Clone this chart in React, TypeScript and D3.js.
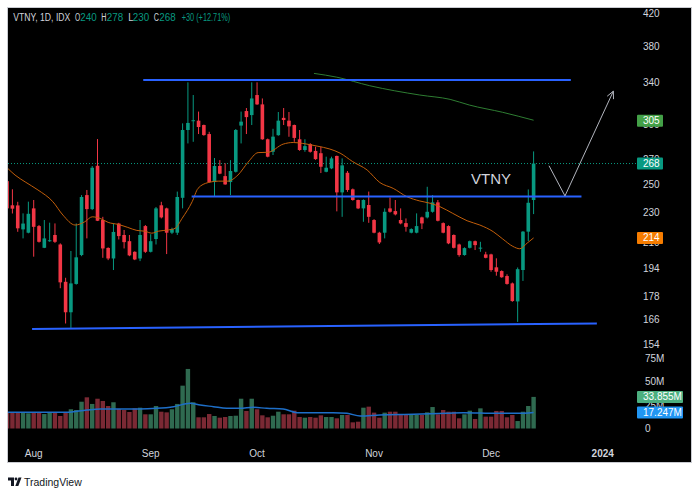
import React from 'react';
import * as d3 from 'd3';

// daily OHLC, one entry per trading day starting 2023-07-25
const opens = [254.1, 236.2, 236.1, 219.6, 217.4, 234.0, 221.8, 207.7, 212.0, 215.9,
  209.8, 187.4, 170.9, 186.2, 203.2, 243.6, 233.5, 266.2, 225.9, 207.6,
  201.1, 223.5, 215.9, 211.9, 205.2, 201.1, 221.8, 205.2, 213.3, 236.2,
  234.0, 217.4, 217.4, 241.6, 296.6, 305.1, 305.1, 301.1, 293.0, 253.4,
  266.0, 258.0, 253.4, 261.4, 300.6, 314.1, 310.3, 329.7, 320.5, 288.4,
  277.7, 292.0, 307.7, 305.1, 301.1, 288.4, 279.2, 284.2, 278.4, 276.5,
  261.4, 264.1, 274.2, 245.6, 260.6, 247.9, 240.0, 234.0, 236.4, 225.9,
  217.4, 217.4, 234.0, 232.1, 225.9, 223.8, 217.4, 217.4, 227.7, 227.7,
  231.6, 238.3, 223.8, 221.8, 215.9, 209.8, 203.2, 207.7, 211.9, 207.5,
  203.6, 203.6, 195.8, 193.6, 190.7, 186.5, 176.6, 194.2, 218.1, 240];
const highs = [256.4, 247.9, 238.7, 230.5, 238.8, 240.0, 222.5, 225.9, 224.1, 223.6,
  210.5, 189.7, 205.7, 223.6, 243.6, 247.4, 266.0, 288.6, 228.1, 208.0,
  223.6, 224.0, 219.2, 215.9, 205.5, 225.9, 222.5, 216.4, 235.0, 238.7,
  234.5, 220.7, 246.2, 302.6, 342.6, 329.7, 313.6, 301.5, 295.0, 272.5,
  270.8, 268.2, 270.8, 297.5, 313.6, 317.0, 342.6, 342.6, 326.3, 289.0,
  297.7, 313.2, 317.0, 313.2, 301.5, 296.6, 288.4, 285.0, 282.0, 282.0,
  273.6, 273.6, 274.5, 272.2, 262.0, 248.5, 240.3, 240.5, 246.2, 226.5,
  218.0, 234.0, 241.8, 240.0, 234.0, 227.0, 220.3, 230.5, 228.2, 249.8,
  243.6, 240.0, 224.3, 222.3, 216.3, 210.3, 208.0, 212.3, 212.3, 211.5,
  205.2, 204.0, 201.2, 194.0, 191.7, 187.0, 195.7, 218.5, 247.8, 278];
const lows = [232.1, 230.4, 218.0, 213.7, 217.0, 202.2, 211.0, 207.5, 211.5, 210.8,
  183.8, 165.2, 163.0, 185.8, 202.5, 213.7, 232.8, 225.2, 201.5, 200.1,
  194.2, 213.0, 207.3, 202.5, 200.1, 199.5, 204.5, 204.8, 209.8, 227.0,
  203.8, 216.5, 215.9, 234.0, 284.8, 286.2, 293.0, 291.5, 253.0, 242.9,
  259.5, 251.3, 243.6, 260.8, 284.8, 293.0, 301.1, 320.0, 288.0, 273.1,
  275.0, 291.5, 301.1, 290.6, 286.2, 278.5, 277.7, 277.0, 271.0, 260.4,
  261.0, 263.5, 231.9, 228.1, 246.0, 239.5, 233.5, 224.7, 224.0, 217.0,
  210.1, 213.7, 231.0, 229.1, 223.0, 218.1, 217.0, 217.0, 219.8, 227.0,
  231.0, 225.0, 217.0, 210.0, 207.3, 202.2, 202.8, 207.3, 206.3, 205.2,
  201.2, 193.2, 190.9, 189.7, 185.8, 176.4, 166.0, 187.9, 212.0, 230];
const closes = [234.0, 233.8, 220.3, 223.5, 230.2, 221.3, 211.5, 213.7, 212.5, 211.5,
  187.1, 170.9, 186.5, 201.8, 242.2, 233.5, 264.6, 225.4, 207.3, 201.1,
  217.9, 215.2, 211.3, 203.0, 200.5, 215.9, 205.2, 211.9, 234.0, 227.7,
  217.4, 219.8, 242.2, 296.6, 303.0, 305.5, 299.3, 292.1, 253.4, 266.0,
  259.9, 251.6, 262.0, 296.6, 304.2, 308.4, 326.3, 320.5, 288.4, 273.6,
  290.7, 305.1, 305.7, 299.9, 289.6, 279.2, 282.5, 277.7, 271.6, 265.4,
  264.6, 272.2, 245.6, 266.5, 247.4, 240.0, 234.0, 240.0, 228.1, 217.4,
  211.1, 231.6, 231.6, 229.8, 223.6, 221.3, 219.8, 221.8, 223.6, 231.6,
  238.3, 225.4, 217.4, 210.5, 207.7, 203.2, 207.5, 211.9, 209.4, 207.8,
  201.5, 194.2, 193.2, 190.0, 186.2, 176.8, 194.7, 218.1, 238.0, 268];
// volume, millions of shares
const volumes = [17.0, 16.9, 16.9, 16.9, 16.3, 16.9, 16.9, 15.5, 16.9, 16.9,
  13.4, 16.9, 20.6, 19.8, 28.7, 33.4, 26.3, 31.9, 29.5, 24.1,
  28.1, 20.9, 19.8, 17.7, 21.6, 22.3, 15.2, 15.2, 24.1, 18.0,
  17.3, 20.6, 26.3, 45.9, 63.8, 28.1, 12.0, 12.0, 15.5, 13.4,
  11.6, 12.3, 13.4, 13.7, 31.9, 18.8, 31.9, 20.6, 14.1, 12.0,
  13.7, 18.0, 15.2, 15.2, 19.1, 12.3, 11.6, 12.3, 11.6, 14.1,
  12.3, 12.3, 10.9, 14.5, 14.5, 6.6, 7.3, 22.3, 23.4, 17.0,
  11.6, 17.0, 18.0, 18.0, 14.5, 14.5, 14.5, 14.5, 14.5, 17.3,
  23.0, 15.2, 19.8, 18.0, 18.0, 10.9, 15.2, 19.1, 10.2, 21.6,
  12.7, 12.7, 18.8, 18.8, 12.0, 14.5, 8.0, 18.0, 24.1, 33.855];

const firstDay = '2023-07-25';
const holidays = ['2023-08-17', '2023-09-28'];

// moving averages: [bar, value]
const maShort = [[0, 264.6], [1.5, 258.8], [3.4, 253.5], [5.8, 247.4], [8.6, 238.8], [10.5, 229.3],
  [12.8, 222.5], [14.6, 224.7], [16, 228.1], [17.5, 227.0], [19, 224.3], [20.9, 222.9], [22.7, 220.9],
  [24.4, 218.9], [25.9, 218.4], [27.2, 217.1], [28.4, 218.4], [30.3, 219.2], [31.6, 220.3], [32.9, 227.0],
  [34.8, 238.8], [35.9, 248.6], [37.8, 253.0], [39.7, 254.1], [41.5, 254.1], [43.4, 258.8], [45.3, 269.0],
  [47.2, 277.0], [49.1, 277.3], [51.9, 284.2], [53.8, 285.6], [55.6, 284.8], [58.3, 282.5], [60.7, 280.0],
  [62.6, 276.6], [65, 269.5], [67.7, 262.8], [70.1, 253.0], [72.6, 248.6], [75.2, 242.4], [77.6, 239.3],
  [79.5, 237.7], [81.4, 235.2], [83.8, 230.5], [86.5, 225.4], [88.9, 222.5], [91.4, 218.1], [93.2, 213.3],
  [95.1, 208.6], [96.4, 207.1], [97.8, 210.7], [99, 214]];
const maLong = [[57.7, 352], [62, 348], [68.2, 339.1], [77.6, 329.7], [83.3, 325.4], [86.9, 319.9],
  [93.2, 312.9], [99, 305.5]];
const volumeMa = [[0, 17.3], [11.2, 17.3], [15, 19.8], [17.5, 20.9], [25, 20.9], [28.1, 21.6], [31.3, 23.4],
  [34.4, 27.0], [36.3, 25.2], [38.8, 23.4], [41.3, 21.6], [43.8, 21.6], [46.3, 22.7], [48.8, 21.6],
  [51.9, 20.9], [54.5, 17.0], [61.3, 17.0], [63.9, 16.3], [66.4, 13.4], [70.1, 14.5], [76.4, 15.2],
  [82.7, 16.3], [85.8, 17.0], [92.1, 16.3], [95.9, 16.3], [99, 17.247]];

const priceTicks = [420, 380, 340, 300, 270, 250, 230, 210, 194, 178, 166, 154];
const volumeTicks = [0, 25, 50, 75];

// legend line
const symbolText = 'VTNY, 1D, IDX';
const changeText = '+30 (+12.71%)';

// drawings: [bar, price]
const trendLines = [
  [[25.6, 345.0], [106.0, 345.0]],
  [[34.7, 242.5], [108.0, 242.5]],
  [[4.7, 162.5], [110.9, 165.2]],
];
const arrowPoints = [[101.9, 266.2], [104.9, 243.0], [114.0, 333.6]];
const noteText = { text: 'VTNY', bar: 91.0, price: 251.8 };

const priceBadges = [
  { text: '305', value: 305, color: '#43a047' },
  { text: '268', value: 268, color: '#089981' },
  { text: '214', value: 214, color: '#f57c00' },
];
const volumeBadges = [
  { text: '33.855M', value: 33.855, color: '#4caf7f' },
  { text: '17.247M', value: 17.247, color: '#2196f3' },
];

const UP = '#089981';
const DOWN = '#f23645';
const TEXT = '#d1d4dc';
const FONT = 'Liberation Sans, Arial, sans-serif';

const fmtDay = d3.timeFormat('%Y-%m-%d');

function buildDays(count: number, future: number) {
  const skip = new Set(holidays);
  const out: Date[] = [];
  let d = d3.timeParse('%Y-%m-%d')(firstDay)!;
  while (out.length < count + future) {
    const wd = d.getDay();
    const isHoliday = out.length < count && skip.has(fmtDay(d));
    if (wd !== 0 && wd !== 6 && !isHoliday) out.push(d);
    d = d3.timeDay.offset(d, 1);
  }
  return out;
}

const App = () => {
  const W = 700, H = 491;
  const left = 8, right = 636, top = 8, bottom = 440;
  const n = closes.length;

  const x = d3.scaleLinear().domain([0, n - 1]).range([7.1, 533.6]);
  const y = d3.scaleLog().domain([154, 420]).range([346.7, 15]);
  const v = d3.scaleLinear().domain([0, 75]).range([428.5, 358.5]);

  const days = buildDays(n, 25);
  const monthTicks: { i: number; label: string; bold: boolean }[] = [];
  days.forEach((d, i) => {
    if (i === 0) return;
    if (d.getMonth() !== days[i - 1].getMonth()) {
      const jan = d.getMonth() === 0;
      monthTicks.push({ i, label: jan ? d3.timeFormat('%Y')(d) : d3.timeFormat('%b')(d), bold: jan });
    }
  });

  const line = d3.line<number[]>().x(d => x(d[0])).y(d => y(d[1])).curve(d3.curveMonotoneX);
  const volLine = d3.line<number[]>().x(d => x(d[0])).y(d => v(d[1])).curve(d3.curveMonotoneX);
  const straight = d3.line<number[]>().x(d => x(d[0])).y(d => y(d[1]));

  const last = closes[n - 1];
  const a = arrowPoints;
  const tip = a[a.length - 1], prev = a[a.length - 2];
  const ang = Math.atan2(y(tip[1]) - y(prev[1]), x(tip[0]) - x(prev[0]));
  const hx = x(tip[0]), hy = y(tip[1]);
  const headLen = 8;
  const head = `M${hx + headLen * Math.cos(ang + Math.PI - 0.45)},${hy + headLen * Math.sin(ang + Math.PI - 0.45)}L${hx},${hy}L${hx + headLen * Math.cos(ang + Math.PI + 0.45)},${hy + headLen * Math.sin(ang + Math.PI + 0.45)}`;

  const legend = [
    { k: 'O', val: opens[n - 1], kx: 75, vx: 80.3 },
    { k: 'H', val: highs[n - 1], kx: 101.3, vx: 106.8 },
    { k: 'L', val: lows[n - 1], kx: 128.3, vx: 132.8 },
    { k: 'C', val: closes[n - 1], kx: 153.8, vx: 159.3 },
  ];

  return (
    <svg width={W} height={H} style={{ position: 'absolute', left: 0, top: 0, background: '#fff' }} fontFamily={FONT}>
      <defs>
        <clipPath id="plot">
          <rect x={left} y={top} width={right - left} height={bottom - top} />
        </clipPath>
      </defs>
      <rect x={7.5} y={7.5} width={684} height={455} fill="#000" stroke="#c9cbd1" strokeWidth={1} />

      <g clipPath="url(#plot)">
        {/* volume */}
        {volumes.map((vol, i) => (
          <rect key={'v' + i} x={x(i) - 2.2} width={4.4} y={v(vol)} height={v(0) - v(vol)}
            fill={closes[i] >= opens[i] ? '#2f6a50' : '#7b2934'} />
        ))}
        <path d={volLine(volumeMa)!} fill="none" stroke="#1e6fc8" strokeWidth={1.5} />

        {/* last price line */}
        <line x1={left} x2={right + 2} y1={y(last)} y2={y(last)} stroke={UP} strokeDasharray="1 2" strokeWidth={1} />

        {/* candles */}
        {closes.map((c, i) => {
          const o = opens[i];
          const col = c >= o ? UP : DOWN;
          const cx = x(i);
          const yt = y(Math.max(o, c)), yb = y(Math.min(o, c));
          return (
            <g key={'c' + i}>
              <line x1={cx} x2={cx} y1={y(highs[i])} y2={y(lows[i])} stroke={col} strokeWidth={1} />
              <rect x={cx - 1.8} width={3.6} y={yt} height={Math.max(1, yb - yt)} fill={col} />
            </g>
          );
        })}

        <path d={line(maShort)!} fill="none" stroke="#c25e0a" strokeWidth={1} />
        <path d={line(maLong)!} fill="none" stroke="#2e7d32" strokeWidth={1} />

        {trendLines.map((t, i) => (
          <path key={'t' + i} d={straight(t)!} stroke="#2962ff" strokeWidth={2} fill="none" />
        ))}

        <path d={straight(arrowPoints)!} fill="none" stroke="#b2b5be" strokeWidth={1} />
        <path d={head} fill="none" stroke="#b2b5be" strokeWidth={1} />

        <text x={x(noteText.bar)} y={y(noteText.price)} fill={TEXT} fontSize={15} textAnchor="middle">{noteText.text}</text>
      </g>

      {/* header legend */}
      <g fontSize={10}>
        <text x={13.3} y={21} fill={TEXT} textLength={57} lengthAdjust="spacingAndGlyphs">{symbolText}</text>
        {legend.map(l => (
          <g key={l.k}>
            <text x={l.kx} y={21} fill={TEXT} textLength={5.2} lengthAdjust="spacingAndGlyphs">{l.k}</text>
            <text x={l.vx} y={21} fill={UP} textLength={16.4} lengthAdjust="spacingAndGlyphs">{l.val}</text>
          </g>
        ))}
        <text x={181.7} y={21} fill={UP} textLength={48.5} lengthAdjust="spacingAndGlyphs">{changeText}</text>
      </g>

      {/* price axis */}
      {priceTicks.map(t => (
        <text key={'p' + t} x={643} y={y(t) - 2} dy="0.35em" fontSize={10} fill={TEXT}>{t}</text>
      ))}
      {volumeTicks.map(t => (
        <text key={'vt' + t} x={645} y={v(t)} dy="0.35em" fontSize={10} fill={TEXT}>{t === 0 ? '0' : t + 'M'}</text>
      ))}
      {priceBadges.map(b => (
        <g key={'pb' + b.text}>
          <rect x={637} y={y(b.value) - 6} width={26} height={12} fill={b.color} rx={1} />
          <text x={643} y={y(b.value)} dy="0.35em" fontSize={10} fill="#fff">{b.text}</text>
        </g>
      ))}
      {volumeBadges.map(b => (
        <g key={'vb' + b.text}>
          <rect x={637} y={v(b.value) - 6} width={46} height={12} fill={b.color} rx={1} />
          <text x={643} y={v(b.value)} dy="0.35em" fontSize={10} fill="#fff">{b.text}</text>
        </g>
      ))}

      {/* time axis */}
      {monthTicks.filter(m => x(m.i) < right).map(m => (
        <text key={'m' + m.i} x={x(m.i)} y={453} dy="0.35em" textAnchor="middle" fontSize={10}
          fill={TEXT} fontWeight={m.bold ? 'bold' : 'normal'}>{m.label}</text>
      ))}

      {/* watermark */}
      <g fill="#131722">
        <path d="M8,477.5h6v8.5h-3v-5.5h-3z" />
        <circle cx={16} cy={479} r={1.4} />
        <path d="M18.5,477.5h3l-3.2,8.5h-3z" />
      </g>
      <text x={24} y={485.5} fontSize={10.5} fill="#131722">TradingView</text>
    </svg>
  );
};

export default App;
